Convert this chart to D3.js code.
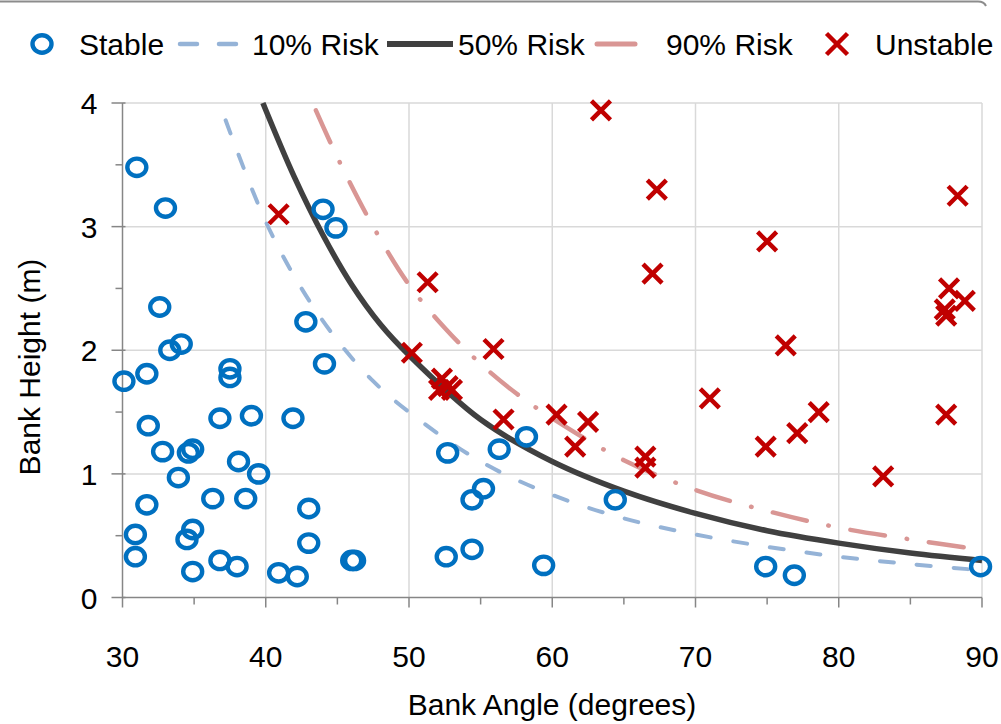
<!DOCTYPE html>
<html>
<head>
<meta charset="utf-8">
<script src="https://cdn.jsdelivr.net/npm/d3@7"></script>
<style>
  body { margin: 0; background: #fff; }
  svg { display: block; font-family: "Liberation Sans", Arial, sans-serif; }
</style>
</head>
<body>
<svg width="1001" height="724"></svg>
<script>
// Bank angle (degrees) and bank height (m) of the surveyed sites
const stable = [
    [31.0, 3.48], [33.0, 3.15], [32.6, 2.35], [33.3, 2.00], [34.1, 2.05],
    [30.1, 1.75], [31.7, 1.81], [37.5, 1.85], [37.5, 1.78], [31.8, 1.39],
    [32.8, 1.18], [36.8, 1.45], [39.0, 1.47], [34.6, 1.17], [34.9, 1.20],
    [33.9, 0.97], [36.3, 0.80], [38.1, 1.10], [39.5, 1.00], [38.6, 0.80],
    [31.7, 0.75], [30.9, 0.51], [30.9, 0.33], [34.5, 0.47], [34.9, 0.55],
    [36.8, 0.30], [34.9, 0.21], [38.0, 0.25], [40.9, 0.20], [42.2, 0.17],
    [43.0, 0.72], [43.0, 0.44], [41.9, 1.45], [42.8, 2.23], [44.1, 1.89],
    [44.0, 3.14], [44.9, 2.99], [46.0, 0.30], [46.2, 0.30], [52.7, 1.17],
    [56.3, 1.20], [58.2, 1.30], [54.4, 0.79], [55.2, 0.88], [52.6, 0.33],
    [54.4, 0.39], [59.4, 0.26], [64.4, 0.79], [74.9, 0.25], [76.9, 0.18],
    [89.9, 0.25]
];

const unstable = [
    [40.9, 3.10], [51.3, 2.55], [63.4, 3.94], [67.3, 3.30], [67.0, 2.62],
    [75.0, 2.88], [88.3, 3.25], [87.7, 2.50], [88.8, 2.40], [87.4, 2.33],
    [87.5, 2.28], [76.3, 2.04], [50.2, 1.98], [55.9, 2.01], [52.3, 1.77],
    [52.1, 1.68], [52.7, 1.71], [53.0, 1.68], [56.6, 1.44], [60.3, 1.48],
    [62.5, 1.42], [61.6, 1.22], [66.5, 1.14], [66.5, 1.05], [71.0, 1.61],
    [78.6, 1.50], [77.1, 1.33], [74.9, 1.22], [87.5, 1.48], [83.1, 0.98]
];

// Risk curves
const risk10 = [
    [37.2, 3.86], [40, 3.04], [42.5, 2.50], [45, 2.08], [47.5, 1.75],
    [50, 1.50], [55, 1.10], [60, 0.83], [65, 0.64], [70, 0.51],
    [75, 0.41], [80, 0.33], [85, 0.27], [90, 0.22]
];
const risk50 = [
    [39.8, 4.00], [42, 3.40], [44, 2.93], [46, 2.53], [48, 2.21],
    [50, 1.96], [55, 1.44], [60, 1.10], [65, 0.86], [70, 0.68],
    [75, 0.54], [80, 0.44], [85, 0.36], [90, 0.30]
];
const risk90 = [
    [43.5, 3.94], [45, 3.56], [47.5, 3.00], [50, 2.53], [52.5, 2.18],
    [55, 1.89], [57.5, 1.65], [60, 1.45], [65, 1.11], [70, 0.87],
    [75, 0.70], [80, 0.565], [85, 0.47], [90, 0.385]
];

const xTicks = [30, 40, 50, 60, 70, 80, 90];
const yTicks = [0, 1, 2, 3, 4];

const legendLabels = ["Stable", "10% Risk", "50% Risk", "90% Risk", "Unstable"];

(function () {
    const svg = d3.select("svg");

    const blue = "#0070C0", red = "#C00000";
    const c10 = "#95B3D7", c50 = "#404040", c90 = "#D99694";

    const x = d3.scaleLinear().domain([30, 90]).range([122.5, 982]);
    const y = d3.scaleLinear().domain([0, 4]).range([597.5, 103]);

    // chart border at the top edge
    svg.append("path")
        .attr("d", "M0,1.5H978Q984,1.5 986,6")
        .attr("fill", "none")
        .attr("stroke", "#8c8c8c")
        .attr("stroke-width", 2);

    // gridlines
    svg.append("g")
        .selectAll("line")
        .data(xTicks.slice(1))
        .join("line")
        .attr("x1", (d) => x(d)).attr("x2", (d) => x(d))
        .attr("y1", y(0)).attr("y2", y(4))
        .attr("stroke", "#d9d9d9").attr("stroke-width", 1.5);
    svg.append("g")
        .selectAll("line")
        .data(yTicks.slice(1))
        .join("line")
        .attr("x1", x(30)).attr("x2", x(90))
        .attr("y1", (d) => y(d)).attr("y2", (d) => y(d))
        .attr("stroke", "#d9d9d9").attr("stroke-width", 1.5);

    // axes (cross ticks on y, outside ticks on x, minor ticks at half steps)
    const axisColor = "#868686";
    const xAxis = svg.append("g").attr("transform", `translate(0,${y(0)})`);
    xAxis.append("line")
        .attr("x1", x(30)).attr("x2", x(90))
        .attr("stroke", axisColor).attr("stroke-width", 1.5);
    xAxis.selectAll(".major")
        .data(xTicks)
        .join("line")
        .attr("class", "major")
        .attr("x1", (d) => x(d)).attr("x2", (d) => x(d))
        .attr("y1", 0).attr("y2", 10)
        .attr("stroke", axisColor).attr("stroke-width", 1.5);
    xAxis.selectAll(".minor")
        .data(d3.range(35, 90, 10))
        .join("line")
        .attr("class", "minor")
        .attr("x1", (d) => x(d)).attr("x2", (d) => x(d))
        .attr("y1", 0).attr("y2", 7)
        .attr("stroke", axisColor).attr("stroke-width", 1.5);
    xAxis.selectAll("text")
        .data(xTicks)
        .join("text")
        .attr("x", (d) => x(d))
        .attr("y", 69)
        .attr("text-anchor", "middle")
        .attr("font-size", 30)
        .attr("fill", "#000")
        .text((d) => d);

    const yAxis = svg.append("g").attr("transform", `translate(${x(30)},0)`);
    yAxis.append("line")
        .attr("y1", y(0)).attr("y2", y(4))
        .attr("stroke", axisColor).attr("stroke-width", 1.5);
    yAxis.selectAll(".major")
        .data(yTicks)
        .join("line")
        .attr("class", "major")
        .attr("y1", (d) => y(d)).attr("y2", (d) => y(d))
        .attr("x1", -11).attr("x2", 3)
        .attr("stroke", axisColor).attr("stroke-width", 1.5);
    yAxis.selectAll(".minor")
        .data(d3.range(0.5, 4, 1))
        .join("line")
        .attr("class", "minor")
        .attr("y1", (d) => y(d)).attr("y2", (d) => y(d))
        .attr("x1", -7).attr("x2", 0)
        .attr("stroke", axisColor).attr("stroke-width", 1.5);
    yAxis.selectAll("text")
        .data(yTicks)
        .join("text")
        .attr("x", -25)
        .attr("y", (d) => y(d) + 11)
        .attr("text-anchor", "end")
        .attr("font-size", 30)
        .attr("fill", "#000")
        .text((d) => d);

    // axis titles
    svg.append("text")
        .attr("x", 552)
        .attr("y", 715)
        .attr("text-anchor", "middle")
        .attr("font-size", 30)
        .text("Bank Angle (degrees)");
    svg.append("text")
        .attr("transform", "translate(40,367) rotate(-90)")
        .attr("text-anchor", "middle")
        .attr("font-size", 30)
        .text("Bank Height (m)");

    // risk curves
    const line = d3.line()
        .x((d) => x(d[0]))
        .y((d) => y(d[1]))
        .curve(d3.curveCatmullRom.alpha(0.5));

    svg.append("path")
        .datum(risk10)
        .attr("d", line)
        .attr("fill", "none")
        .attr("stroke", c10)
        .attr("stroke-width", 4)
        .attr("stroke-linecap", "round")
        .attr("stroke-dasharray", "14,23");
    svg.append("path")
        .datum(risk90)
        .attr("d", line)
        .attr("fill", "none")
        .attr("stroke", c90)
        .attr("stroke-width", 4.5)
        .attr("stroke-linecap", "round")
        .attr("stroke-dasharray", "35,22,0.5,22");
    svg.append("path")
        .datum(risk50)
        .attr("d", line)
        .attr("fill", "none")
        .attr("stroke", c50)
        .attr("stroke-width", 5.5);

    // markers
    function cross(g, size) {
        g.append("path")
            .attr("d", `M${-size},${-size}L${size},${size}M${-size},${size}L${size},${-size}`)
            .attr("stroke", red)
            .attr("stroke-width", 4.5);
    }

    svg.append("g")
        .selectAll("ellipse")
        .data(stable)
        .join("ellipse")
        .attr("cx", (d) => x(d[0]))
        .attr("cy", (d) => y(d[1]))
        .attr("rx", 9.5)
        .attr("ry", 8.7)
        .attr("fill", "none")
        .attr("stroke", blue)
        .attr("stroke-width", 4.4);

    svg.append("g")
        .selectAll("g")
        .data(unstable)
        .join("g")
        .attr("transform", (d) => `translate(${x(d[0])},${y(d[1])})`)
        .each(function () { cross(d3.select(this), 9.5); });

    // legend
    const legend = svg.append("g").attr("id", "legend");
    const ly = 44;
    legend.append("ellipse")
        .attr("cx", 42).attr("cy", ly)
        .attr("rx", 9.5).attr("ry", 8.7)
        .attr("fill", "none")
        .attr("stroke", blue).attr("stroke-width", 4.4);
    legend.append("line")
        .attr("x1", 180).attr("x2", 236)
        .attr("y1", ly).attr("y2", ly)
        .attr("stroke", c10).attr("stroke-width", 4.5)
        .attr("stroke-linecap", "round")
        .attr("stroke-dasharray", "17,22");
    legend.append("line")
        .attr("x1", 387).attr("x2", 453)
        .attr("y1", ly).attr("y2", ly)
        .attr("stroke", c50).attr("stroke-width", 6);
    legend.append("line")
        .attr("x1", 597).attr("x2", 635)
        .attr("y1", ly).attr("y2", ly)
        .attr("stroke", c90).attr("stroke-width", 5)
        .attr("stroke-linecap", "round");
    legend.append("g")
        .attr("transform", `translate(837,${ly})`)
        .call(cross, 10.5);

    legend.selectAll("text")
        .data(legendLabels)
        .join("text")
        .attr("x", (d, i) => [79, 252, 458, 666, 875][i])
        .attr("y", 55)
        .attr("font-size", 30)
        .text((d) => d);
})();
</script>
</body>
</html>
